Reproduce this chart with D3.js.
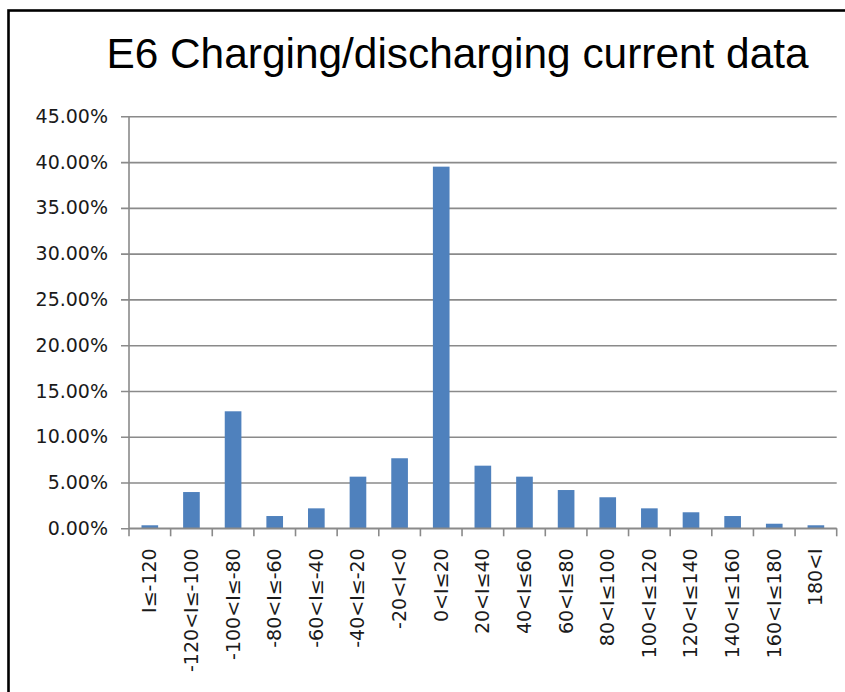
<!DOCTYPE html>
<html>
<head>
<meta charset="utf-8">
<script src="https://cdn.jsdelivr.net/npm/d3@7"></script>
<style>
    html, body { margin: 0; padding: 0; background: #fff; }
    svg { display: block; }
</style>
</head>
<body>
<div id="chart"></div>
<script>
(function(){
    'use strict';

    var chartTitle = 'E6 Charging/discharging current data';
    var categories = ['I≤-120', '-120<I≤-100', '-100<I≤-80', '-80<I≤-60', '-60<I≤-40',
        '-40<I≤-20', '-20<I<0', '0<I≤20', '20<I≤40', '40<I≤60', '60<I≤80',
        '80<I≤100', '100<I≤120', '120<I≤140', '140<I≤160', '160<I≤180', '180<I'];
    var shares = [0.0033, 0.0396, 0.1278, 0.0134, 0.0218, 0.0564, 0.0765, 0.3950,
        0.0684, 0.0564, 0.0418, 0.0339, 0.0218, 0.0175, 0.0134, 0.0050, 0.0033];
    var yTicks = [0, 0.05, 0.10, 0.15, 0.20, 0.25, 0.30, 0.35, 0.40, 0.45];

    var W = 845, H = 692;
    var margin = {top: 116.3, right: 8.3, bottom: 163.7, left: 129},
        width = W - margin.left - margin.right,
        height = H - margin.top - margin.bottom;

    var svg = d3.select('#chart').append('svg')
        .attr('width', W)
        .attr('height', H);

    // outer frame (right and bottom edges fall outside the picture)
    svg.append('rect')
        .attr('x', 8.5).attr('y', 10.5)
        .attr('width', W + 20).attr('height', H + 20)
        .attr('fill', 'none')
        .attr('stroke', '#000')
        .attr('stroke-width', 2.6);

    svg.append('text')
        .attr('x', 457.5)
        .attr('y', 68)
        .attr('text-anchor', 'middle')
        .style('font-family', '"Liberation Sans", Arial, sans-serif')
        .style('font-size', '42.4px')
        .attr('fill', '#000')
        .text(chartTitle);

    var g = svg.append('g')
        .attr('transform', 'translate(' + margin.left + ',' + margin.top + ')');

    var x = d3.scaleBand()
        .domain(categories)
        .range([0, width])
        .paddingInner(0.6)
        .paddingOuter(0.3);

    var y = d3.scaleLinear()
        .domain([0, 0.45])
        .range([height, 0]);

    var gridColor = '#8a8a8a';
    var labelFont = '"DejaVu Sans", Verdana, sans-serif';

    // y axis with gridlines
    var yAxis = g.append('g')
        .call(d3.axisLeft(y)
            .tickValues(yTicks)
            .tickFormat(d3.format('.2%'))
            .tickSize(-width)
            .tickPadding(21));

    yAxis.select('.domain').remove();
    yAxis.selectAll('.tick line')
        .attr('x1', -8)
        .attr('stroke', gridColor)
        .attr('stroke-width', 1.6);
    yAxis.selectAll('.tick text')
        .style('font-family', labelFont)
        .style('font-size', '19px')
        .attr('fill', '#1a1a1a');

    g.append('line')
        .attr('x1', 0).attr('x2', 0)
        .attr('y1', 0).attr('y2', height)
        .attr('stroke', gridColor)
        .attr('stroke-width', 1.6);

    // bars
    g.selectAll('.bar')
        .data(shares)
        .enter().append('rect')
        .attr('class', 'bar')
        .attr('x', function (d, i) { return x(categories[i]); })
        .attr('width', x.bandwidth())
        .attr('y', function (d) { return y(d); })
        .attr('height', function (d) { return height - y(d); })
        .attr('fill', '#4f81bd');

    // x axis line and boundary ticks
    var xAxis = g.append('g')
        .attr('transform', 'translate(0,' + height + ')');

    xAxis.append('line')
        .attr('x1', 0).attr('x2', width)
        .attr('stroke', gridColor)
        .attr('stroke-width', 1.6);

    xAxis.selectAll('.xtick')
        .data(d3.range(categories.length + 1))
        .enter().append('line')
        .attr('class', 'xtick')
        .attr('x1', function (i) { return i * x.step(); })
        .attr('x2', function (i) { return i * x.step(); })
        .attr('y1', 0).attr('y2', 8)
        .attr('stroke', gridColor)
        .attr('stroke-width', 1.6);

    xAxis.selectAll('.xlabel')
        .data(categories)
        .enter().append('text')
        .attr('class', 'xlabel')
        .attr('transform', function (d) {
            return 'translate(' + (x(d) + x.bandwidth() / 2 + 6.5) + ',20) rotate(-90)';
        })
        .attr('text-anchor', 'end')
        .style('font-family', labelFont)
        .style('font-size', '19px')
        .attr('fill', '#1a1a1a')
        .text(function (d) { return d; });
})();
</script>
</body>
</html>
